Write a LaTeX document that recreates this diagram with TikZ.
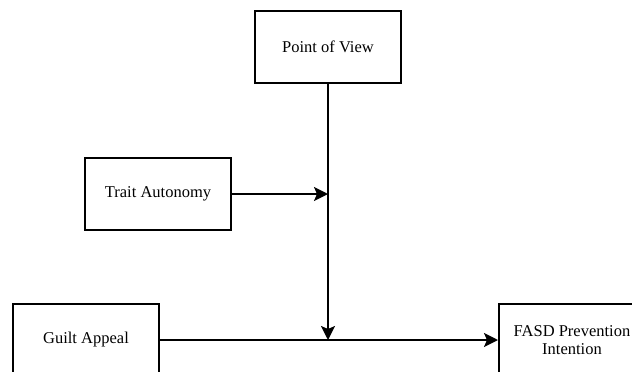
\documentclass[tikz,border=0pt]{standalone}
\usepackage{fontspec}
\setmainfont{Liberation Serif}
\usetikzlibrary{arrows.meta}
\tikzset{
  box/.style={draw,line width=2pt,minimum width=146pt,minimum height=72pt,inner sep=0pt,align=center,font=\fontsize{16.5}{18}\selectfont},
  conn/.style={draw,line width=2pt,-{Stealth[length=14pt,width=14pt,inset=3pt]}}
}
\begin{document}
\begin{tikzpicture}[x=1pt,y=-1pt]
\useasboundingbox (0,0) rectangle (632,372);
\node[box] (pov) at (328,47) {Point of View};
\node[box] (ta) at (158,194) {Trait Autonomy};
\node[box] (ga) at (86,340) {Guilt Appeal};
\node[box] (fasd) at (572,340) {FASD Prevention\\Intention};
\path[conn] (pov.south) -- (pov.south |- ga.east);
\path[conn] (ta.east) -- (ta.east -| pov.south);
\path[conn] (ga.east) -- (fasd.west);
\end{tikzpicture}
\end{document}
